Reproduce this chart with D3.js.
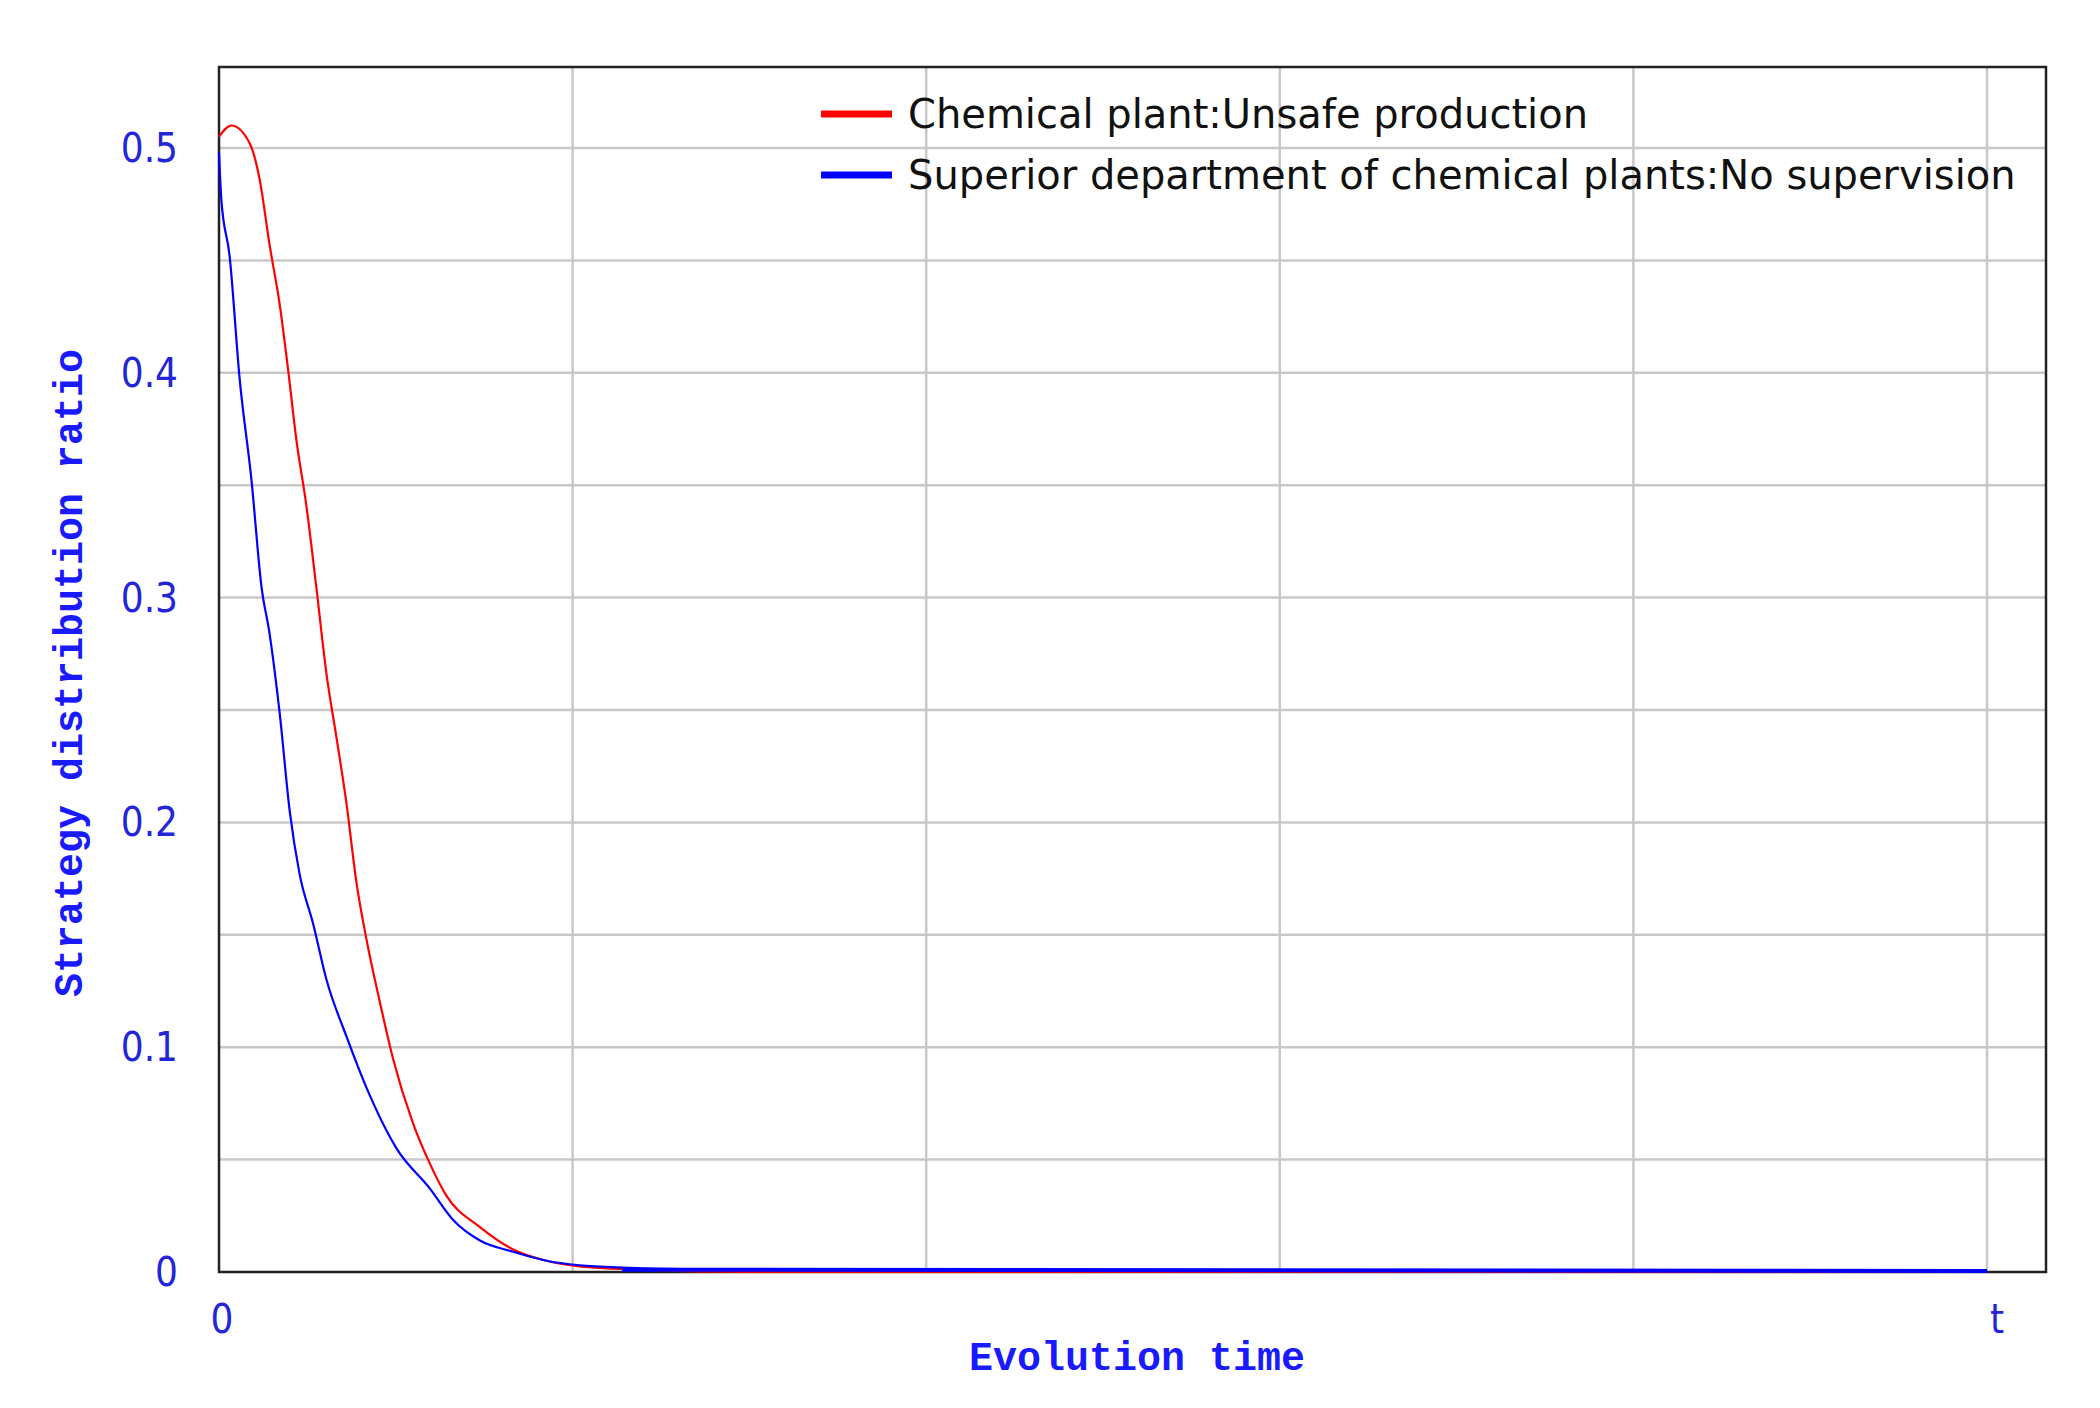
<!DOCTYPE html><html><head><meta charset="utf-8"><script src="https://cdn.jsdelivr.net/npm/d3@7"></script>
<style>body{margin:0;background:#fff}</style></head><body><svg id="c" width="2100" height="1408"></svg><script>
const redT=[0,0.035,0.087,0.115,0.143,0.172,0.195,0.219,0.247,0.275,0.304,0.332,0.36,0.389,0.417,0.455,0.492,0.549,0.597,0.643,0.738,0.832,0.926,1.02,1.2,1.5,5];
const redV=[0.505,0.51,0.502,0.486,0.457,0.43,0.402,0.37,0.341,0.305,0.266,0.238,0.209,0.173,0.148,0.12,0.095,0.066,0.048,0.034,0.02,0.01,0.005,0.0025,0.001,0,0];
const blueT=[0,0.0066,0.03,0.058,0.092,0.12,0.143,0.172,0.2,0.228,0.266,0.304,0.36,0.417,0.502,0.597,0.663,0.738,0.832,0.926,1.02,1.14,1.5,5];
const blueV=[0.498,0.477,0.452,0.398,0.352,0.305,0.284,0.248,0.205,0.177,0.155,0.13,0.105,0.082,0.055,0.037,0.023,0.014,0.009,0.005,0.003,0.002,0.001,0.0005];
const yTicks=[0,0.1,0.2,0.3,0.4,0.5];
const yGrid=[0.05,0.1,0.15,0.2,0.25,0.3,0.35,0.4,0.45,0.5];
const xGrid=[1,2,3,4,5];
const xTickLabels=[[0,"0"],[5,"t"]];
const seriesNames=["Chemical plant:Unsafe production","Superior department of chemical plants:No supervision"];
const colors=["#ff0000","#0000ff"];
const L=219,R=2046,T=67,B=1272;
const svg=d3.select("#c");
const x=d3.scaleLinear().domain([0,5]).range([L,L+353.6*5]);
const y=d3.scaleLinear().domain([0,0.5]).range([B,B-5*224.8]);
const g=svg.append("g");
g.selectAll(".hg").data(yGrid).join("line").attr("x1",L).attr("x2",R).attr("y1",d=>y(d)).attr("y2",d=>y(d)).attr("stroke","#c8c8c8").attr("stroke-width",2.5);
g.selectAll(".vg").data(xGrid).join("line").attr("y1",T).attr("y2",B).attr("x1",d=>x(d)).attr("x2",d=>x(d)).attr("stroke","#c8c8c8").attr("stroke-width",2.5);
svg.append("rect").attr("x",L).attr("y",T).attr("width",R-L).attr("height",B-T).attr("fill","none").attr("stroke","#222").attr("stroke-width",2.5);
const line=d3.line().x(d=>x(d[0])).y(d=>y(d[1])).curve(d3.curveMonotoneX);
svg.append("path").attr("d",line(redT.map((t,i)=>[t,redV[i]]))).attr("fill","none").attr("stroke",colors[0]).attr("stroke-width",2.2);
svg.append("path").attr("d",line(blueT.map((t,i)=>[t,blueV[i]]))).attr("fill","none").attr("stroke",colors[1]).attr("stroke-width",2.2);
svg.append("path").attr("d",line([[1.14,0.001],[5,0.0005]])).attr("fill","none").attr("stroke",colors[1]).attr("stroke-width",4);
const tc="#2424d8";
svg.selectAll(".yt").data(yTicks).join("text").attr("x",178).attr("y",d=>y(d)+14).attr("text-anchor","end").attr("font-family","DejaVu Sans Condensed, DejaVu Sans").attr("font-size",40).attr("fill",tc).text(d=>d===0?"0":d.toFixed(1));
svg.selectAll(".xt").data(xTickLabels).join("text").attr("x",d=>x(d[0])+(d[0]===0?3:10)).attr("y",1333).attr("text-anchor","middle").attr("font-family","DejaVu Sans Condensed, DejaVu Sans").attr("font-size",40).attr("fill",tc).text(d=>d[1]);
svg.append("text").attr("x",1137).attr("y",1370).attr("text-anchor","middle").attr("font-family","Liberation Mono").attr("font-weight","bold").attr("font-size",40).attr("fill","#1a1aff").text("Evolution time");
svg.append("text").attr("transform","translate(82,673) rotate(-90)").attr("text-anchor","middle").attr("font-family","Liberation Mono").attr("font-weight","bold").attr("font-size",40).attr("fill","#1a1aff").text("Strategy distribution ratio");
seriesNames.forEach((n,i)=>{const yy=114+i*61;
svg.append("line").attr("x1",821).attr("x2",892).attr("y1",yy).attr("y2",yy).attr("stroke",colors[i]).attr("stroke-width",7);
svg.append("text").attr("x",908).attr("y",yy+14).attr("font-family","DejaVu Sans").attr("font-size",40).attr("fill","#111").text(n);});
</script></body></html>
